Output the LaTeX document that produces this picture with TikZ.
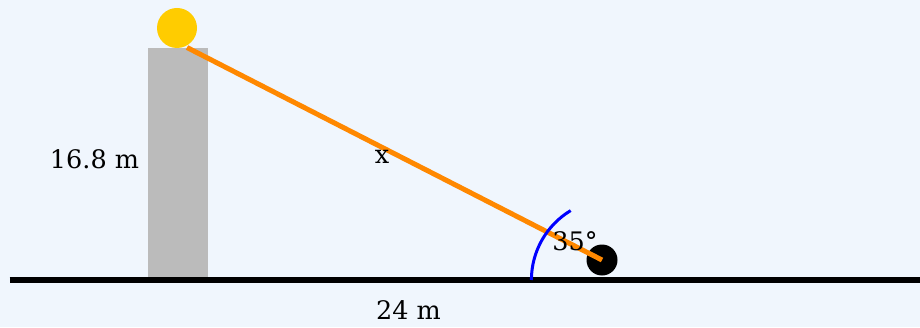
\documentclass[tikz,border=0pt]{standalone}
\usepackage{fontspec}
\setmainfont{DejaVu Serif}
\usepackage{tikz}

\definecolor{skybg}{HTML}{F0F6FD}
\definecolor{towergray}{HTML}{BBBBBB}
\definecolor{sunyellow}{HTML}{FFCC00}
\definecolor{ropeorange}{HTML}{FF8800}

\begin{document}
\begin{tikzpicture}[x=1pt, y=1pt, every node/.style={font=\fontsize{25.5}{30}\selectfont, inner sep=0pt, anchor=base}]
    % background
    \fill[skybg] (0,0) rectangle (920,327);
    \useasboundingbox (0,0) rectangle (920,327);

    % tower and ground
    \fill[towergray] (147.5,46) rectangle (207.5,279);
    \draw[line width=5.5pt] (9.5,47) -- (920,47);

    % points
    \coordinate (top) at (187,279.5);
    \coordinate (base) at (602,67);
    \coordinate (foot) at (612.4,47);
    \fill[sunyellow] (177,299) circle (20);
    \fill[black] (base) circle (15.5);

    % sight line and angle
    \draw[ropeorange, line width=5pt] (top) -- (base);
    \draw[blue, line width=3pt] ([shift={(180:81)}]foot) arc (180:121:81);

    % labels
    \node (h) at (94.5,159) {16.8 m};
    \node (x) at (382,164) {x};
    \node (a) at (575,77) {35°};
    \node (d) at (408.5,8) {24 m};
\end{tikzpicture}
\end{document}
